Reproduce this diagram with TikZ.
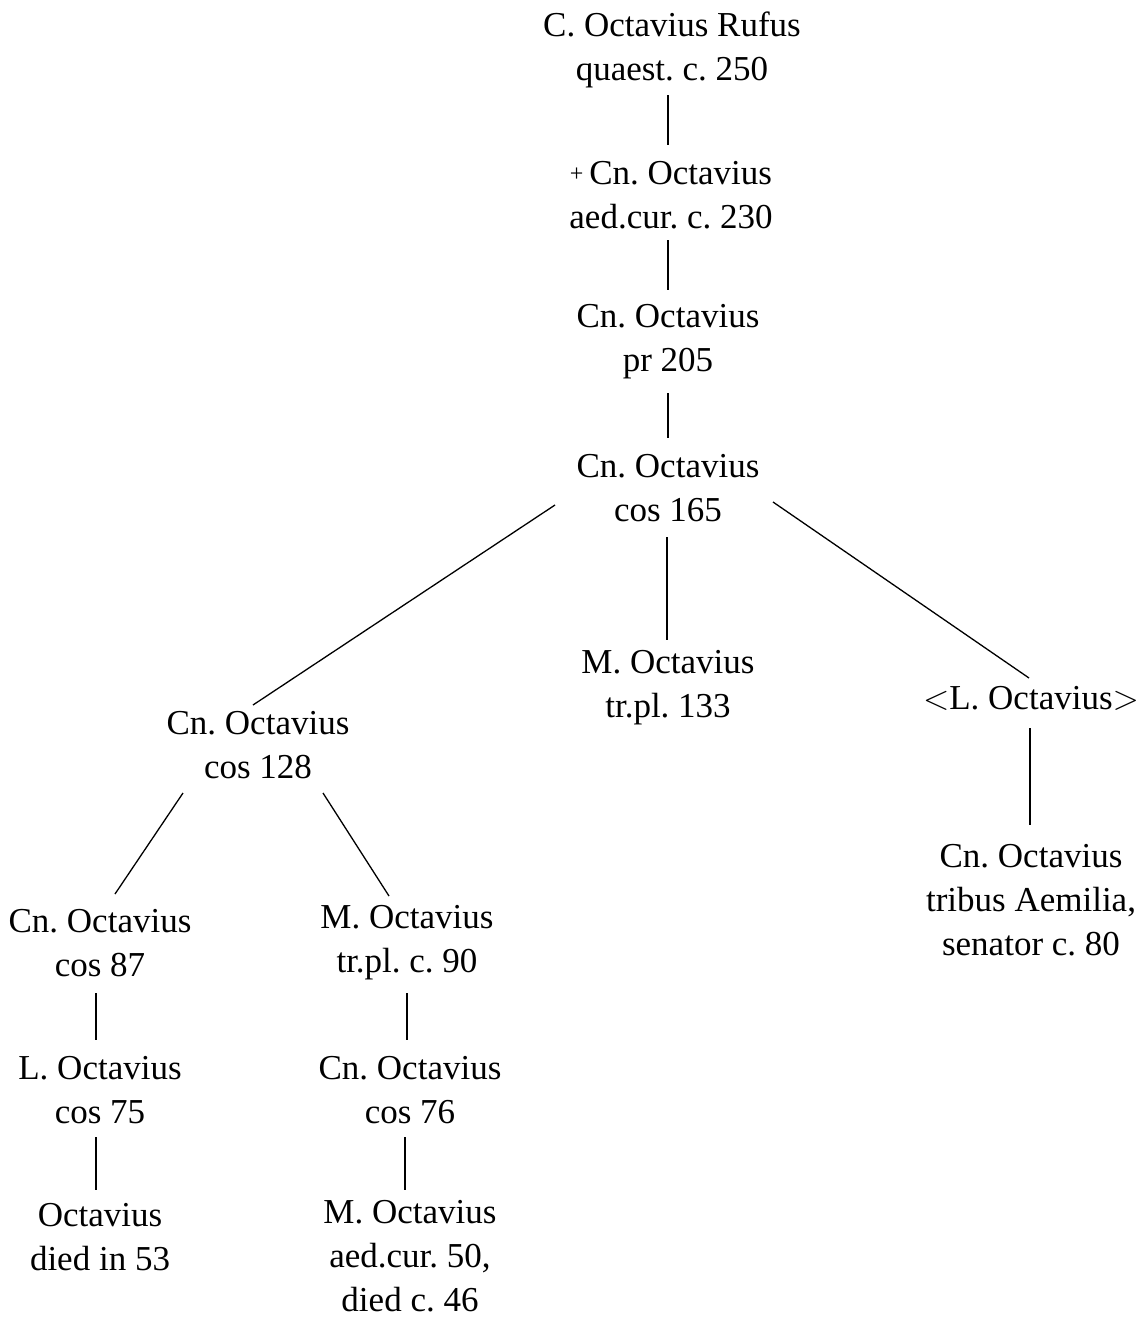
\documentclass[tikz,border=0pt]{standalone}
\usepackage{fontspec}
\setmainfont{Liberation Serif}
\usetikzlibrary{calc}
\begin{document}
\frenchspacing
\begin{tikzpicture}[x=0.5pt,y=-0.5pt,
  person/.style={align=center,inner sep=0pt,font=\fontsize{17.5pt}{22pt}\selectfont\frenchspacing},
  link/.style={line width=0.65pt,black}]
\useasboundingbox (0,0) rectangle (1145,1317);
\node[person] (n1) at (672,50) {C. Octavius Rufus\\quaest. c. 250};
\node[person] (n2) at (671,195) {\raisebox{0.2ex}{\fontsize{12pt}{12pt}\selectfont +}\,Cn. Octavius\\aed.cur. c. 230};
\node[person] (n3) at (668,342) {Cn. Octavius\\pr 205};
\node[person] (n4) at (668,488) {Cn. Octavius\\cos 165};
\node[person] (n5) at (668,688) {M. Octavius\\tr.pl. 133};
\node[person] (n6) at (258,745) {Cn. Octavius\\cos 128};
\node[person] (n7) at (1031,698) {$<$L. Octavius$>$};
\node[person] (n8) at (1031,900) {Cn. Octavius\\tribus Aemilia,\\senator c. 80};
\node[person] (n9) at (100,943) {Cn. Octavius\\cos 87};
\node[person] (n10) at (407,943) {M. Octavius\\tr.pl. c. 90};
\node[person] (n11) at (100,1090) {L. Octavius\\cos 75};
\node[person] (n12) at (410,1090) {Cn. Octavius\\cos 76};
\node[person] (n13) at (100,1237) {Octavius\\died in 53};
\node[person] (n14) at (410,1256) {M. Octavius\\aed.cur. 50,\\died c. 46};
\draw[link] ($(n1)+(-4,45)$) -- ($(n2)+(-3,-50)$);
\draw[link] ($(n2)+(-3,45)$) -- ($(n3)+(0,-52)$);
\draw[link] ($(n3)+(0,51)$) -- ($(n4)+(0,-50)$);
\draw[link] ($(n4)+(-113,17)$) -- ($(n6)+(-5,-40)$);
\draw[link] ($(n4)+(-1,49)$) -- ($(n5)+(-1,-48)$);
\draw[link] ($(n4)+(105,14)$) -- ($(n7)+(-2,-20)$);
\draw[link] ($(n7)+(-1,30)$) -- ($(n8)+(-1,-75)$);
\draw[link] ($(n6)+(-75,48)$) -- ($(n9)+(15,-49)$);
\draw[link] ($(n6)+(65,48)$) -- ($(n10)+(-18,-47)$);
\draw[link] ($(n9)+(-4,50)$) -- ($(n11)+(-4,-50)$);
\draw[link] ($(n10)+(0,50)$) -- ($(n12)+(-3,-50)$);
\draw[link] ($(n11)+(-4,47)$) -- ($(n13)+(-4,-47)$);
\draw[link] ($(n12)+(-5,47)$) -- ($(n14)+(-5,-66)$);
\end{tikzpicture}
\end{document}
